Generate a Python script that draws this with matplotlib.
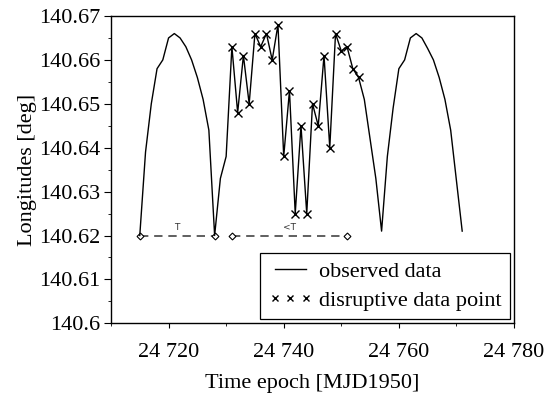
import matplotlib
matplotlib.use("Agg")
import matplotlib.pyplot as plt
from matplotlib.ticker import MultipleLocator, FixedLocator, FixedFormatter

plt.rcParams['font.family'] = ['Liberation Serif', 'DejaVu Serif']

# observed data
epochs = [24715, 24716, 24717, 24718, 24719, 24720, 24721, 24722, 24723, 24724,
          24725, 24726, 24727, 24728, 24729, 24730, 24731, 24732, 24733, 24734,
          24735, 24736, 24737, 24738, 24739, 24740, 24741, 24742, 24743, 24744,
          24745, 24746, 24747, 24748, 24749, 24750, 24751, 24752, 24753, 24754,
          24755, 24756, 24757, 24758, 24759, 24760, 24761, 24762, 24763, 24764,
          24765, 24766, 24767, 24768, 24769, 24771]
longitudes = [140.620, 140.639, 140.650, 140.658, 140.660, 140.665, 140.666, 140.665, 140.663, 140.660,
              140.656, 140.651, 140.644, 140.620, 140.633, 140.638, 140.663, 140.648, 140.661, 140.650,
              140.666, 140.663, 140.666, 140.660, 140.668, 140.638, 140.653, 140.625, 140.645, 140.625,
              140.650, 140.645, 140.661, 140.640, 140.666, 140.662, 140.663, 140.658, 140.656, 140.651,
              140.642, 140.633, 140.621, 140.638, 140.649, 140.658, 140.660, 140.665, 140.666, 140.665,
              140.6626, 140.660, 140.656, 140.651, 140.644, 140.621]

# disruptive points
disrupt_epochs = epochs[16:39]
disrupt_values = longitudes[16:39]

# period markers
period1_x = [24715, 24728]
period2_x = [24731, 24751]
period_y = 140.62
period_labels = ['T', '<T']

xticks = [24720, 24740, 24760, 24780]
xtick_labels = ['24 720', '24 740', '24 760', '24 780']
yticks = [140.6, 140.61, 140.62, 140.63, 140.64, 140.65, 140.66, 140.67]
ytick_labels = ['140.6', '140.61', '140.62', '140.63', '140.64', '140.65', '140.66', '140.67']

fig = plt.figure(figsize=(5.53, 3.99), dpi=100)
ax = fig.add_axes([0.2007, 0.1897, 0.7288, 0.7702])

ax.plot(epochs, longitudes, color='black', lw=1.0, label='observed data', zorder=3)
ax.plot(disrupt_epochs, disrupt_values, ls='none', marker='x', ms=6, mew=1.0,
        color='black', label='disruptive data point', zorder=4)

for px in (period1_x, period2_x):
    ax.plot(px, [period_y, period_y], ls=(0, (5, 3.5)), color='#444444', lw=1.2,
            marker='D', ms=3.5, mfc='white', mec='black', mew=0.8, zorder=2)
ax.text(sum(period1_x) / 2, period_y + 0.0008, period_labels[0], ha='center', va='bottom',
        fontsize=6.5, family='DejaVu Sans', color='#333333')
ax.text(sum(period2_x) / 2, period_y + 0.0008, period_labels[1], ha='center', va='bottom',
        fontsize=6.5, family='DejaVu Sans', color='#333333')

ax.set_xlim(24710, 24780)
ax.set_ylim(140.6, 140.67)
ax.xaxis.set_major_locator(FixedLocator(xticks))
ax.xaxis.set_major_formatter(FixedFormatter(xtick_labels))
ax.xaxis.set_minor_locator(MultipleLocator(10))
ax.yaxis.set_major_locator(FixedLocator(yticks))
ax.yaxis.set_major_formatter(FixedFormatter(ytick_labels))
ax.yaxis.set_minor_locator(MultipleLocator(0.005))

ax.tick_params(which='major', direction='out', length=5, width=0.8, labelsize=16, pad=3,
               top=False, right=False)
ax.tick_params(axis='x', which='major', length=3.5, pad=10.5)
ax.tick_params(which='minor', direction='out', length=2.2, width=0.6, top=False, right=False)
for s in ax.spines.values():
    s.set_linewidth(1.0)

ax.set_xlabel('Time epoch [MJD1950]', fontsize=16, labelpad=9)
ax.set_ylabel('Longitudes [deg]', fontsize=16, labelpad=1)

leg = ax.legend(loc='lower right', fontsize=16, frameon=True, fancybox=False,
                edgecolor='black', framealpha=1, borderaxespad=0.2, borderpad=0.35,
                handlelength=2.0, handletextpad=0.3, labelspacing=0.4,
                numpoints=3, markerscale=0.65)
leg.get_frame().set_linewidth(0.9)

fig.savefig('out.png', dpi=100)
